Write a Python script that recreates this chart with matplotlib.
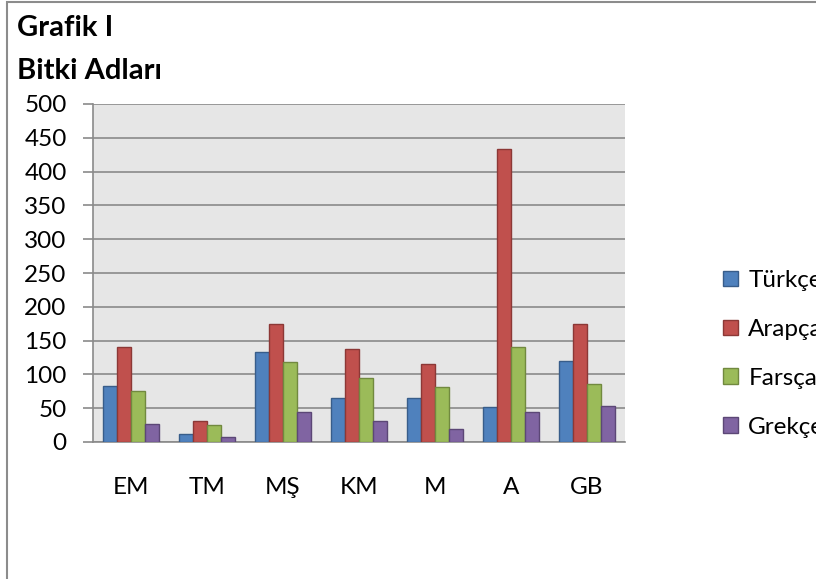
import matplotlib.pyplot as plt
import numpy as np
from matplotlib.patches import Patch, Rectangle

plt.rcParams["font.family"] = ["Lato", "DejaVu Sans"]

kategoriler = ["EM", "TM", "MŞ", "KM", "M", "A", "GB"]
seriler = ["Türkçe", "Arapça", "Farsça", "Grekçe"]
turkce = [83, 12, 133, 65, 65, 52, 120]
arapca = [140, 31, 174, 137, 115, 433, 174]
farsca = [75, 25, 119, 94, 82, 141, 86]
grekce = [27, 8, 44, 31, 19, 45, 53]

renkler = ["#4F81BD", "#C0504D", "#9BBB59", "#8064A2"]
kenarlar = ["#385D8A", "#8C3836", "#71893F", "#5C4776"]

fig = plt.figure(figsize=(8.16, 5.79), dpi=100)
ax = fig.add_axes([93 / 816, 1 - 442 / 579, 532 / 816, 338 / 579])
ax.set_facecolor("#E6E6E6")

x = np.arange(len(kategoriler))
w = 1 / 5.5
for i, (vals, c, ec) in enumerate(zip([turkce, arapca, farsca, grekce], renkler, kenarlar)):
    ax.bar(x + (i - 1.5) * w, vals, w, color=c, edgecolor=ec, linewidth=1.0, zorder=3)

ax.set_xlim(-0.5, len(kategoriler) - 0.5)
ax.set_ylim(0, 500)
ax.set_yticks(range(0, 501, 50))
ax.set_xticks(x)
ax.set_xticklabels(kategoriler)
ax.grid(axis="y", color="#8A8A8A", linewidth=1.2, zorder=1)
ax.tick_params(axis="y", length=7, width=1.2, color="#8A8A8A", pad=12, labelsize=17.5)
ax.tick_params(axis="x", length=0, pad=25, labelsize=17.5)
for s in ["top", "right"]:
    ax.spines[s].set_visible(False)
for s in ["left", "bottom"]:
    ax.spines[s].set_color("#8A8A8A")
    ax.spines[s].set_linewidth(1.2)

# dis cerceve
fig.patches.append(Rectangle((7 / 816, -0.1), 1.1, 1.1 - 2 / 579, transform=fig.transFigure,
                             fill=False, edgecolor="#8C8C8C", linewidth=1.5, zorder=0))

fig.text(17 / 816, 1 - 36 / 579, "Grafik I", fontsize=21, fontweight="bold", va="baseline")
fig.text(17 / 816, 1 - 79 / 579, "Bitki Adları", fontsize=21, fontweight="bold", va="baseline")

# legend referansta oldugu gibi sag kenarda kesiliyor
handles = [Patch(facecolor=c, edgecolor=ec, linewidth=1.0) for c, ec in zip(renkler, kenarlar)]
fig.legend(handles, seriler, loc="upper left", bbox_to_anchor=(723 / 816, 1 - 270 / 579),
           frameon=False, fontsize=17.5, handlelength=0.62, handleheight=0.62,
           handletextpad=0.42, labelspacing=1.15, borderpad=0, borderaxespad=0)

fig.savefig("out.png", dpi=100)
